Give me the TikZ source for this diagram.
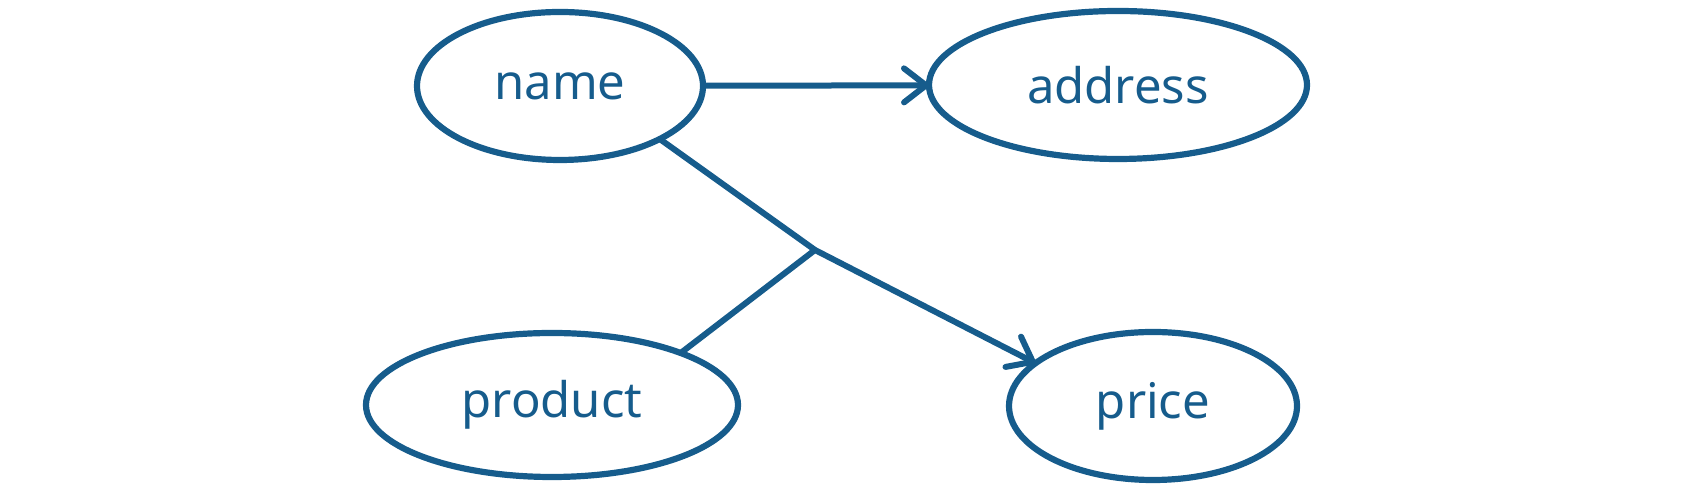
\documentclass[tikz,border=0pt]{standalone}
\usepackage{fontspec}
\setmainfont{Noto Sans}
\usetikzlibrary{shapes.geometric,arrows.meta}
\definecolor{er}{RGB}{22,92,140}
\tikzset{
  ent/.style={ellipse, draw=er, line width=3.1pt, inner sep=0pt, outer sep=0pt,
    text=er, font=\fontsize{24.5}{28}\selectfont},
  conn/.style={draw=er, line width=3pt, line cap=round, line join=round},
  tip/.style={-{Straight Barb[length=11pt,width=17pt,line width=3pt,round]}}
}
\begin{document}
\begin{tikzpicture}[x=0.5pt,y=0.5pt]
\useasboundingbox (0,0) rectangle (1684,490);
\node[ent, minimum width=143pt, minimum height=74pt] (name) at (560,404) {name};
\node[ent, minimum width=189pt, minimum height=74pt] (addr) at (1118,405) {address};
\node[ent, minimum width=186pt, minimum height=72pt] (prod) at (552,85) {product};
\node[ent, minimum width=144pt, minimum height=74pt] (price) at (1153,84) {price};
\coordinate (j) at (815,240);
\draw[conn, tip] (name) -- (addr);
\draw[conn, tip] (name.-28) -- (j) -- (price.160);
\draw[conn] (prod.22) -- (j);
\end{tikzpicture}
\end{document}
